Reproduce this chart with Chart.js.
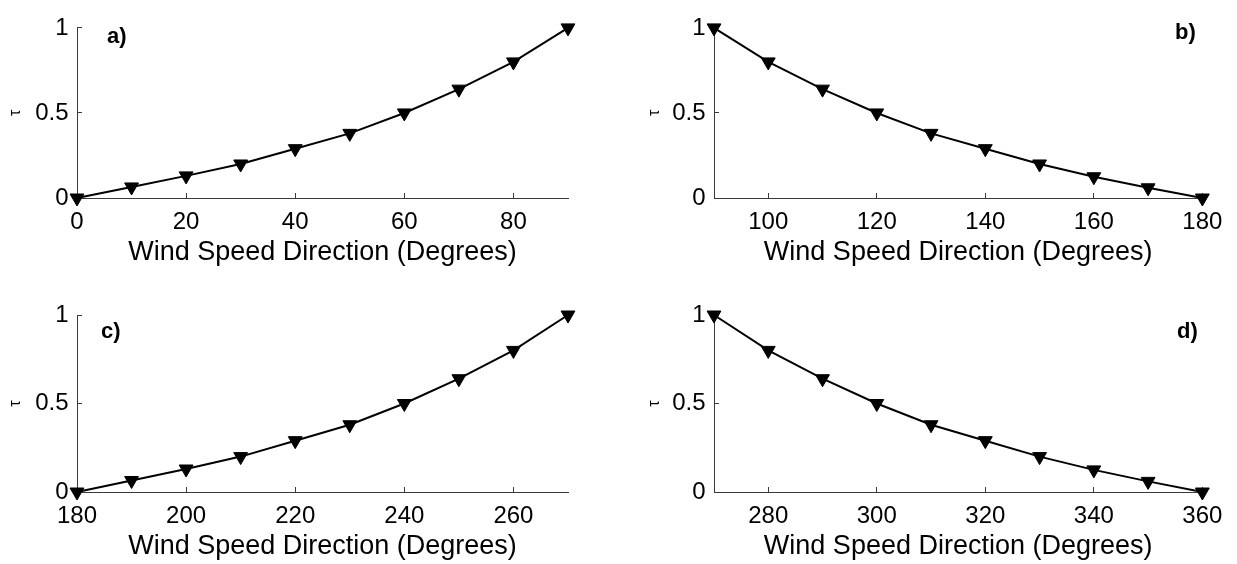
<!DOCTYPE html>
<html>
<head>
<meta charset="utf-8">
<title>Wind direction factor</title>
<script src="https://cdn.jsdelivr.net/npm/chart.js@4.4.0/dist/chart.umd.min.js"></script>
<style>
    html, body { margin: 0; padding: 0; background: #fff; }
    #wrap { position: relative; width: 1237px; height: 564px; overflow: hidden; }
    #wrap canvas { position: absolute; }
</style>
</head>
<body>
<div id="wrap">
    <canvas id="chartA" width="618" height="282" style="left:0px;top:0px"></canvas>
    <canvas id="chartB" width="598" height="282" style="left:639px;top:0px"></canvas>
    <canvas id="chartC" width="618" height="282" style="left:0px;top:282px"></canvas>
    <canvas id="chartD" width="598" height="282" style="left:639px;top:282px"></canvas>
</div>
<script>
/* ============================================
   TAU vs WIND DIRECTION - 4 PANELS
   ============================================ */

// Panel a) 0-90 degrees
const degA = [0, 10, 20, 30, 40, 50, 60, 70, 80, 90];
const tauA = [0, 0.065, 0.13, 0.2, 0.29, 0.38, 0.5, 0.64, 0.8, 1];
const xTicksA = [0, 20, 40, 60, 80];

// Panel b) 90-180 degrees
const degB = [90, 100, 110, 120, 130, 140, 150, 160, 170, 180];
const tauB = [1, 0.8, 0.64, 0.5, 0.38, 0.29, 0.2, 0.125, 0.06, 0];
const xTicksB = [100, 120, 140, 160, 180];

// Panel c) 180-270 degrees
const degC = [180, 190, 200, 210, 220, 230, 240, 250, 260, 270];
const tauC = [0, 0.065, 0.13, 0.2, 0.29, 0.38, 0.5, 0.64, 0.8, 1];
const xTicksC = [180, 200, 220, 240, 260];

// Panel d) 270-360 degrees
const degD = [270, 280, 290, 300, 310, 320, 330, 340, 350, 360];
const tauD = [1, 0.8, 0.64, 0.5, 0.38, 0.29, 0.2, 0.125, 0.06, 0];
const xTicksD = [280, 300, 320, 340, 360];

const yTicks = [0, 0.5, 1];

const FONT = '"Liberation Sans", Arial, Helvetica, sans-serif';
const AXIS_COLOR = '#3a3a3a';
const X_AXIS_H = 71;

// draws the "a)", "b)" ... tag inside the plot
const panelLabel = {
    id: 'panelLabel',
    afterDraw(chart, args, opts) {
        const ctx = chart.ctx;
        ctx.save();
        ctx.font = 'bold 22px ' + FONT;
        ctx.fillStyle = '#000';
        ctx.textAlign = 'left';
        ctx.textBaseline = 'alphabetic';
        ctx.fillText(opts.text, opts.x, opts.y);
        ctx.restore();
    }
};

/**
 * Build one panel
 */
function makePanel(id, xs, ys, xTicks, label, geom) {
    const canvas = document.getElementById(id);
    const points = xs.map((x, i) => ({ x: x, y: ys[i] }));

    return new Chart(canvas, {
        type: 'line',
        data: {
            datasets: [{
                data: points,
                borderColor: '#000',
                borderWidth: 2,
                backgroundColor: '#000',
                pointStyle: 'triangle',
                pointRotation: 180,
                pointRadius: 8,
                pointBorderWidth: 1,
                pointBackgroundColor: '#000',
                pointBorderColor: '#000',
                tension: 0,
                clip: false
            }]
        },
        options: {
            responsive: false,
            animation: false,
            events: [],
            layout: {
                padding: {
                    left: 0,
                    top: geom.top,
                    right: canvas.width - geom.right,
                    bottom: canvas.height - geom.bottom - X_AXIS_H
                }
            },
            plugins: {
                legend: { display: false },
                tooltip: { enabled: false },
                panelLabel: { text: label.text, x: label.x, y: label.y }
            },
            scales: {
                x: {
                    type: 'linear',
                    min: xs[0],
                    max: xs[xs.length - 1],
                    border: { display: true, color: AXIS_COLOR, width: 1 },
                    grid: {
                        drawOnChartArea: false,
                        drawTicks: true,
                        tickLength: -5,
                        tickColor: AXIS_COLOR
                    },
                    afterBuildTicks: function(scale) {
                        scale.ticks = xTicks.map(v => ({ value: v }));
                    },
                    afterFit: function(scale) {
                        scale.height = X_AXIS_H;
                    },
                    ticks: {
                        color: '#000',
                        font: { family: FONT, size: 24 },
                        padding: 14.6,
                        maxRotation: 0,
                        autoSkip: false,
                        callback: v => String(v)
                    },
                    title: {
                        display: true,
                        text: 'Wind Speed Direction (Degrees)',
                        color: '#000',
                        font: { family: FONT, size: 27 },
                        padding: { top: 0, bottom: 0 }
                    }
                },
                y: {
                    type: 'linear',
                    min: 0,
                    max: 1,
                    border: { display: true, color: AXIS_COLOR, width: 1 },
                    grid: {
                        drawOnChartArea: false,
                        drawTicks: true,
                        tickLength: -5,
                        tickColor: AXIS_COLOR
                    },
                    afterBuildTicks: function(scale) {
                        scale.ticks = yTicks.map(v => ({ value: v }));
                    },
                    afterFit: function(scale) {
                        scale.width = geom.left;
                    },
                    ticks: {
                        color: '#000',
                        font: { family: FONT, size: 24 },
                        padding: 13.5,
                        callback: v => String(v)
                    },
                    title: {
                        display: true,
                        text: 'τ',
                        color: '#000',
                        font: { family: FONT, size: 16 },
                        padding: { top: 6, bottom: 0 }
                    }
                }
            }
        },
        plugins: [panelLabel]
    });
}

document.addEventListener('DOMContentLoaded', function() {
    // geometry is in canvas coordinates
    makePanel('chartA', degA, tauA, xTicksA,
        { text: 'a)', x: 107, y: 43 },
        { left: 77, right: 568, top: 21, bottom: 198 });
    makePanel('chartB', degB, tauB, xTicksB,
        { text: 'b)', x: 536, y: 39 },
        { left: 75, right: 567, top: 21, bottom: 198 });
    makePanel('chartC', degC, tauC, xTicksC,
        { text: 'c)', x: 101, y: 56 },
        { left: 77, right: 568, top: 33, bottom: 210 });
    makePanel('chartD', degD, tauD, xTicksD,
        { text: 'd)', x: 538, y: 56 },
        { left: 75, right: 567, top: 33, bottom: 210 });
});
</script>
</body>
</html>
